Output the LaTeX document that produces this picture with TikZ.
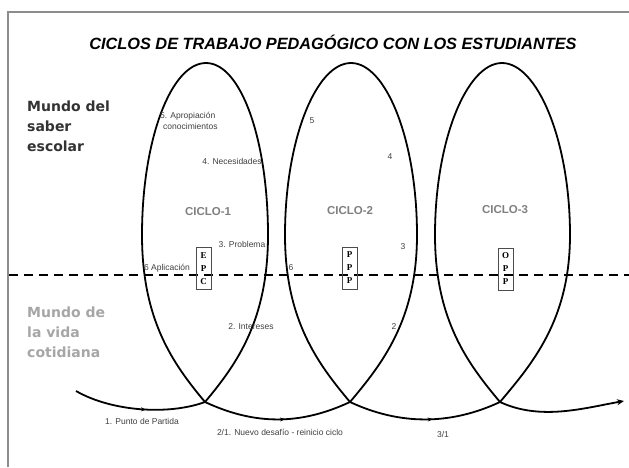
\documentclass[tikz,border=0pt]{standalone}
\usepackage{fontspec}
\setmainfont{Liberation Sans}
\newfontfamily\serifa{Liberation Serif}
\newfontfamily\ancha{DejaVu Sans}
\usetikzlibrary{decorations.markings,arrows.meta}

\begin{document}
\begin{tikzpicture}[x=1pt,y=1pt,
  curva/.style={line width=1.8pt, black},
  medio/.style={postaction={decorate}, decoration={markings, mark=at position 0.55 with {\arrow{Stealth[length=5pt,width=4pt]}}}},
  etq/.style={font=\fontsize{8.5}{9}\selectfont, text=black!75, inner sep=0pt},
  ciclo/.style={font=\bfseries\fontsize{11.5}{12}\selectfont, text=black!50, inner sep=0pt},
  caja/.style={draw=black!70, line width=0.6pt, minimum width=15pt, minimum height=42pt, inner sep=0pt, align=center, font=\serifa\bfseries\fontsize{9}{13}\selectfont},
  mundo/.style={font=\ancha\bfseries\fontsize{14}{20}\selectfont, align=left, inner sep=0pt, anchor=north west}]
\fill[white] (0,0) rectangle (629,467);
\useasboundingbox (0,0) rectangle (629,467);
% marco
\draw[line width=2pt, black!45] (8,0) -- (8,455) -- (629,455);
\node[font=\bfseries\itshape\fontsize{16.3}{17}\selectfont] (titulo) at (333,425) {CICLOS DE TRABAJO PEDAGÓGICO CON LOS ESTUDIANTES};
\node[mundo, text=black!80] (saber) at (27,366) {Mundo del\\saber\\escolar};
\node[mundo, text=black!35] (vida) at (27,160) {Mundo de\\la vida\\cotidiana};
% linea divisoria
\coordinate (divi) at (9,192);
\coordinate (divd) at (629,192);
\draw[line width=2.4pt, dash pattern=on 9pt off 6pt] (divi) -- (divd);
% puntos de la curva
\coordinate (pstart) at (76,76);
\coordinate (cross1) at (205,65);
\coordinate (cross2) at (350,65);
\coordinate (cross3) at (500,65);
\coordinate (pend) at (624,66);
\coordinate (left1) at (142,232);
\coordinate (right1) at (268,232);
\coordinate (top1) at (206,404);
\coordinate (left2) at (285,232);
\coordinate (right2) at (417,232);
\coordinate (top2) at (351,404);
\coordinate (left3) at (435,232);
\coordinate (right3) at (570,232);
\coordinate (top3) at (502,404);
% tramos de abajo
\draw[curva, medio] (pstart) to[out=-30, in=200, out distance=40, in distance=40] (cross1);
\draw[curva, medio] (cross1) to[out=-25, in=205, out distance=55, in distance=55] (cross2);
\draw[curva, medio] (cross2) to[out=-25, in=205, out distance=55, in distance=55] (cross3);
\draw[curva, -{Stealth[length=7pt,width=6pt]}] (cross3) to[out=-25, in=190, out distance=45, in distance=40] (pend);
% ciclos
\foreach \i in {1,2,3}{
  \draw[curva] (cross\i) to[out=50, in=-90, out distance=50, in distance=85] (right\i)
    to[out=90, in=0, out distance=95, in distance=35] (top\i)
    to[out=180, in=90, out distance=35, in distance=95] (left\i)
    to[out=-90, in=130, out distance=85, in distance=50] (cross\i);
}
\node[ciclo] (ciclo1) at (208,255) {CICLO-1};
\node[ciclo] (ciclo2) at (350,256) {CICLO-2};
\node[ciclo] (ciclo3) at (505,257) {CICLO-3};
\node[caja] (epc) at (203.5,198.5) {E\\P\\C};
\node[caja] (ppp) at (349.5,199) {P\\P\\P};
\node[caja] (opp) at (505.5,198) {O\\P\\P};
% etiquetas ciclo 1
\node[etq, anchor=west, align=left] (apropia) at (160,346) {5. Apropiación\\[2pt]\hspace{3pt}conocimientos};
\node[etq] (necesi) at (232,306) {4. Necesidades};
\node[etq] (proble) at (242,223) {3. Problema};
\node[etq] (aplica) at (167,199) {6 Aplicación};
\node[etq] (intere) at (251,140) {2. Intereses};
% etiquetas ciclo 2
\node[etq] (n5) at (312,346) {5};
\node[etq] (n4) at (390,310) {4};
\node[etq] (n3) at (403,220) {3};
\node[etq] (n6) at (291,199) {6};
\node[etq] (n2) at (394,140) {2};
% etiquetas de abajo
\node[etq] (partida) at (142,46) {1. Punto de Partida};
\node[etq] (desafio) at (280,35) {2/1. Nuevo desafío - reinicio ciclo};
\node[etq] (tres) at (443,33) {3/1};
\end{tikzpicture}
\end{document}
